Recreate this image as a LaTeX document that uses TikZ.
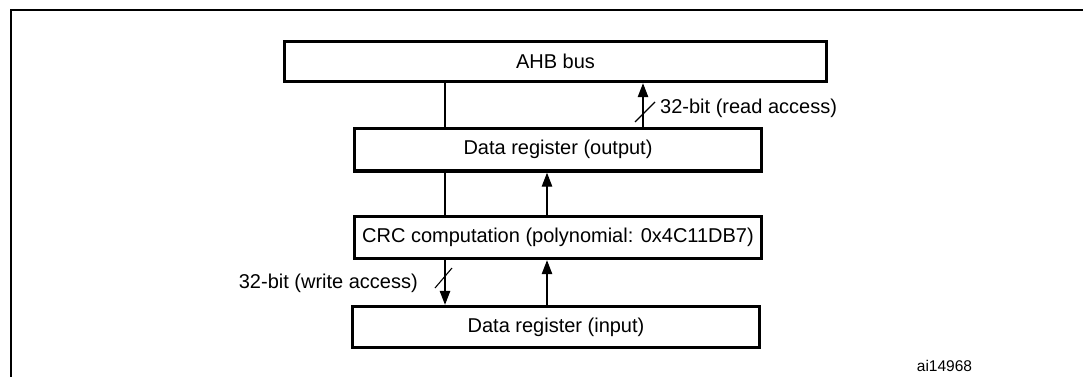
\documentclass[tikz,border=0pt]{standalone}
\usepackage{fontspec}
\setmainfont{Liberation Sans}
\usetikzlibrary{arrows.meta}
\begin{document}
\begin{tikzpicture}[x=1pt,y=-1pt,
  blockbox/.style={draw,line width=3.4pt,inner sep=0pt,anchor=center,font=\fontsize{20}{24}\selectfont},
  conn/.style={line width=1.2pt},
  arr/.style={line width=1.2pt,-{Triangle[length=14pt,width=10.5pt]}},
  lbl/.style={inner sep=0pt,font=\fontsize{20}{24}\selectfont},
  busslash/.style={line width=1.1pt}]
\useasboundingbox (0,0) rectangle (1083,376);
\clip (0,0) rectangle (1083,376);
\draw[line width=2.4pt] (1100,10) -- (11,10) -- (11,400);
\node[blockbox,minimum width=542pt,minimum height=40pt] (ahb) at (555.5,61.5) {AHB bus};
\node[blockbox,minimum width=407pt,minimum height=42.5pt] (out) at (558,149.75) {Data register (output)};
\node[blockbox,minimum width=407pt,minimum height=42pt] (crc) at (558,237.5) {CRC computation (polynomial: 0x4C11DB7)};
\node[blockbox,minimum width=407pt,minimum height=41pt] (in) at (556,327) {Data register (input)};
\coordinate (L) at (445,0);
\coordinate (M) at (547,0);
\coordinate (R) at (643,0);
\draw[conn] (ahb.south -| L) -- (out.north -| L);
\draw[conn] (out.south -| L) -- (crc.north -| L);
\draw[arr] (crc.south -| L) -- (in.north -| L);
\draw[arr] (out.north -| R) -- (ahb.south -| R);
\draw[arr] (crc.north -| M) -- (out.south -| M);
\draw[arr] (in.north -| M) -- (crc.south -| M);
\draw[busslash] (635,122) -- (655,102);
\draw[busslash] (435,288) -- (452,268);
\node[lbl,anchor=west] (rl) at (660,108) {32-bit (read access)};
\node[lbl,anchor=east] (wl) at (418,283) {32-bit (write access)};
\node[inner sep=0pt,font=\fontsize{15.5}{18}\selectfont] (id) at (944.5,366) {ai14968};
\end{tikzpicture}
\end{document}
